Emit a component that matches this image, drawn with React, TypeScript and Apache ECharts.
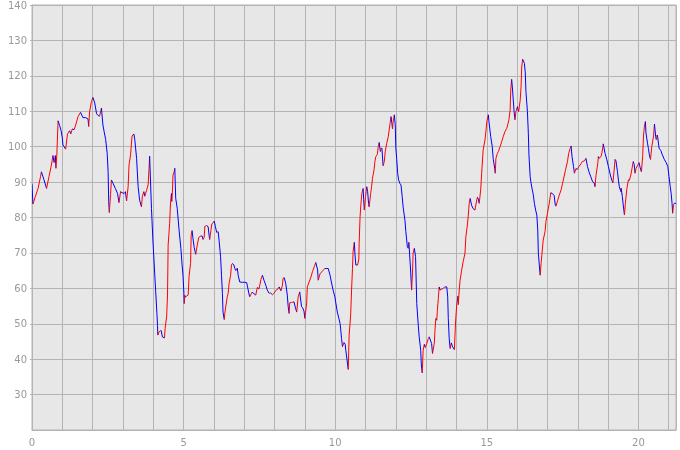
import React, { useEffect, useRef } from 'react';
import * as echarts from 'echarts';

const xs = [
  0.00, 0.03, 0.11, 0.20, 0.28, 0.31, 0.39, 0.48, 0.56, 0.64,
  0.69, 0.73, 0.77, 0.79, 0.82, 0.86, 0.91, 0.96, 1.00, 1.02,
  1.11, 1.17, 1.24, 1.28, 1.33, 1.39, 1.44, 1.52, 1.60, 1.68,
  1.77, 1.85, 1.87, 1.90, 1.96, 2.01, 2.07, 2.13, 2.18, 2.23,
  2.29, 2.34, 2.38, 2.43, 2.48, 2.51, 2.53, 2.55, 2.59, 2.62,
  2.67, 2.75, 2.82, 2.87, 2.92, 2.97, 3.04, 3.08, 3.12, 3.17,
  3.20, 3.25, 3.30, 3.36, 3.39, 3.45, 3.50, 3.55, 3.61, 3.64,
  3.69, 3.72, 3.78, 3.83, 3.86, 3.88, 3.94, 3.99, 4.05, 4.08,
  4.12, 4.14, 4.15, 4.19, 4.23, 4.26, 4.30, 4.37, 4.39, 4.44,
  4.47, 4.49, 4.54, 4.57, 4.60, 4.61, 4.63, 4.65, 4.69, 4.71,
  4.74, 4.79, 4.85, 4.91, 4.95, 4.98, 5.01, 5.02, 5.04, 5.06,
  5.10, 5.15, 5.18, 5.23, 5.25, 5.28, 5.31, 5.35, 5.40, 5.45,
  5.50, 5.57, 5.62, 5.64, 5.68, 5.70, 5.76, 5.81, 5.84, 5.86,
  5.90, 5.93, 5.97, 6.01, 6.05, 6.09, 6.14, 6.17, 6.22, 6.25,
  6.28, 6.30, 6.34, 6.36, 6.39, 6.44, 6.47, 6.50, 6.55, 6.58,
  6.61, 6.66, 6.69, 6.72, 6.77, 6.80, 6.85, 6.94, 7.02, 7.08,
  7.11, 7.15, 7.18, 7.22, 7.26, 7.32, 7.38, 7.43, 7.49, 7.55,
  7.60, 7.65, 7.71, 7.76, 7.82, 7.87, 7.93, 7.98, 8.04, 8.12,
  8.15, 8.21, 8.26, 8.28, 8.32, 8.37, 8.42, 8.45, 8.48, 8.50,
  8.56, 8.64, 8.69, 8.73, 8.78, 8.83, 8.89, 8.92, 8.97, 9.00,
  9.06, 9.08, 9.14, 9.20, 9.25, 9.31, 9.36, 9.42, 9.44, 9.50,
  9.55, 9.60, 9.66, 9.72, 9.77, 9.83, 9.88, 9.93, 9.99, 10.02,
  10.07, 10.11, 10.16, 10.18, 10.21, 10.24, 10.29, 10.33, 10.35, 10.43,
  10.46, 10.51, 10.54, 10.57, 10.59, 10.63, 10.65, 10.68, 10.74, 10.78,
  10.79, 10.82, 10.85, 10.88, 10.92, 10.94, 10.96, 11.00, 11.04, 11.07,
  11.10, 11.12, 11.17, 11.20, 11.23, 11.28, 11.31, 11.34, 11.39, 11.42,
  11.45, 11.49, 11.51, 11.54, 11.58, 11.62, 11.65, 11.70, 11.75, 11.81,
  11.84, 11.87, 11.89, 11.91, 11.95, 11.98, 12.00, 12.03, 12.06, 12.09,
  12.14, 12.17, 12.21, 12.24, 12.30, 12.33, 12.38, 12.41, 12.43, 12.47,
  12.49, 12.52, 12.55, 12.57, 12.61, 12.65, 12.69, 12.74, 12.77, 12.82,
  12.84, 12.87, 12.90, 12.94, 12.97, 13.02, 13.07, 13.10, 13.18, 13.21,
  13.27, 13.29, 13.32, 13.35, 13.37, 13.40, 13.43, 13.46, 13.49, 13.56,
  13.62, 13.68, 13.71, 13.73, 13.76, 13.79, 13.83, 13.87, 13.93, 13.97,
  14.01, 14.05, 14.06, 14.09, 14.12, 14.17, 14.22, 14.28, 14.31, 14.36,
  14.39, 14.42, 14.45, 14.50, 14.55, 14.61, 14.67, 14.69, 14.72, 14.75,
  14.80, 14.83, 14.88, 14.94, 14.97, 15.00, 15.05, 15.07, 15.13, 15.18,
  15.21, 15.26, 15.28, 15.30, 15.35, 15.38, 15.44, 15.49, 15.54, 15.60,
  15.66, 15.69, 15.73, 15.77, 15.79, 15.82, 15.85, 15.90, 15.93, 15.96,
  16.01, 16.05, 16.10, 16.13, 16.15, 16.18, 16.20, 16.24, 16.27, 16.29,
  16.34, 16.37, 16.39, 16.43, 16.46, 16.50, 16.53, 16.57, 16.61, 16.65,
  16.68, 16.70, 16.76, 16.79, 16.82, 16.86, 16.92, 16.95, 17.00, 17.06,
  17.11, 17.17, 17.22, 17.26, 17.28, 17.34, 17.39, 17.45, 17.50, 17.56,
  17.60, 17.66, 17.70, 17.75, 17.78, 17.81, 17.86, 17.89, 17.94, 17.99,
  18.04, 18.11, 18.15, 18.22, 18.27, 18.32, 18.37, 18.43, 18.49, 18.54,
  18.57, 18.60, 18.66, 18.68, 18.71, 18.77, 18.79, 18.83, 18.84, 18.90,
  18.96, 19.01, 19.07, 19.12, 19.16, 19.20, 19.23, 19.26, 19.31, 19.34,
  19.37, 19.42, 19.43, 19.47, 19.50, 19.54, 19.57, 19.62, 19.67, 19.70,
  19.75, 19.79, 19.83, 19.86, 19.89, 19.92, 19.98, 20.02, 20.06, 20.10,
  20.14, 20.17, 20.20, 20.23, 20.25, 20.30, 20.33, 20.36, 20.40, 20.44,
  20.50, 20.53, 20.57, 20.59, 20.62, 20.64, 20.68, 20.74, 20.79, 20.86,
  20.91, 20.97, 21.01, 21.05, 21.08, 21.11, 21.13, 21.16, 21.18, 21.24,
];

const ys = [
  89.5, 83.8, 85.9, 88.2, 91.5, 92.9, 90.8, 88.2, 91.5, 94.8,
  97.5, 95.5, 97.5, 93.9, 98.0, 107.3, 106.0, 104.5, 102.5, 100.5,
  99.3, 103.6, 104.5, 103.6, 105.0, 104.8, 106.1, 108.5, 109.7, 108.2,
  108.2, 107.8, 105.7, 109.9, 112.7, 113.9, 112.3, 109.3, 108.8, 108.6,
  110.9, 106.1, 104.2, 102.0, 98.1, 93.0, 84.5, 81.4, 86.5, 90.6,
  89.7, 88.2, 86.8, 84.2, 87.3, 87.0, 86.8, 87.3, 84.7, 88.7,
  94.8, 97.7, 103.0, 103.6, 102.0, 96.7, 88.7, 84.9, 83.0, 86.0,
  87.3, 86.0, 87.7, 89.2, 93.9, 97.3, 82.6, 73.1, 63.7, 59.0,
  52.9, 49.5, 46.8, 47.7, 48.0, 48.1, 46.3, 46.0, 48.7, 51.9,
  58.1, 72.2, 78.3, 84.5, 86.8, 84.5, 87.2, 92.0, 92.9, 93.9,
  85.4, 82.6, 76.5, 71.3, 66.6, 63.7, 58.6, 55.7, 58.0, 57.5,
  57.8, 58.1, 63.3, 67.1, 75.0, 76.3, 74.0, 71.5, 69.6, 72.2,
  74.4, 74.8, 74.7, 73.8, 74.4, 77.5, 77.7, 77.4, 75.0, 73.8,
  76.3, 78.2, 78.5, 79.0, 77.4, 75.8, 76.0, 73.6, 68.9, 63.7,
  58.6, 53.3, 51.2, 53.0, 54.8, 57.6, 58.6, 61.4, 63.7, 66.6,
  67.0, 66.6, 65.6, 65.0, 65.7, 63.7, 61.8, 61.7, 61.7, 61.6,
  60.4, 58.7, 57.6, 58.3, 58.9, 58.5, 58.1, 60.2, 59.9, 62.5,
  63.7, 62.3, 60.9, 59.5, 58.6, 58.7, 58.2, 58.6, 59.4, 59.9,
  60.4, 59.3, 60.9, 62.8, 63.0, 61.3, 58.1, 54.8, 52.9, 55.9,
  56.0, 56.2, 54.5, 53.3, 57.6, 59.0, 54.8, 54.6, 53.6, 51.5,
  55.9, 60.4, 61.8, 63.2, 64.7, 66.1, 67.3, 65.2, 62.3, 64.1,
  64.6, 65.1, 65.6, 65.6, 65.6, 63.7, 61.5, 59.5, 57.6, 55.9,
  53.3, 51.9, 50.1, 48.5, 45.8, 43.5, 44.7, 44.2, 42.5, 37.1,
  46.8, 52.5, 59.5, 65.6, 70.3, 73.0, 69.9, 66.6, 66.6, 68.3,
  72.7, 80.2, 84.0, 86.8, 88.2, 85.0, 82.1, 85.9, 88.7, 87.3,
  84.0, 83.0, 86.8, 88.7, 91.1, 93.4, 95.8, 97.2, 97.8, 100.0,
  101.2, 98.6, 99.5, 99.6, 94.6, 95.8, 98.6, 101.0, 102.8, 106.6,
  108.5, 106.6, 105.0, 106.9, 109.0, 106.2, 99.6, 96.3, 92.5, 90.6,
  89.5, 89.2, 85.9, 83.0, 79.2, 76.0, 71.7, 71.3, 73.0, 67.5,
  64.6, 59.5, 64.6, 69.9, 71.3, 69.0, 55.7, 49.6, 46.3, 42.5,
  38.6, 36.1, 42.5, 44.2, 43.3, 44.4, 45.8, 46.3, 44.4, 41.6,
  44.6, 48.2, 51.5, 51.0, 53.8, 57.1, 60.4, 59.5, 59.7, 60.0,
  60.4, 60.4, 57.6, 51.5, 45.8, 43.0, 44.6, 43.5, 42.7, 50.5,
  55.7, 57.8, 55.4, 59.5, 62.3, 65.1, 67.5, 69.9, 74.6, 77.9,
  80.7, 84.0, 85.4, 83.4, 82.5, 82.1, 85.0, 85.7, 85.2, 84.0,
  88.0, 92.5, 99.1, 101.9, 104.2, 107.1, 109.0, 107.1, 102.8, 100.0,
  96.7, 93.9, 92.5, 96.7, 98.1, 98.6, 100.0, 101.4, 102.8, 104.3,
  105.2, 106.2, 107.6, 110.4, 116.0, 119.0, 116.0, 109.9, 107.6, 109.9,
  111.3, 109.9, 113.0, 117.0, 122.2, 124.7, 124.4, 123.5, 120.8, 115.6,
  109.9, 103.8, 97.7, 91.5, 89.7, 87.8, 86.6, 84.0, 82.1, 80.7,
  76.5, 69.9, 63.7, 67.0, 69.9, 73.6, 76.0, 78.8, 81.2, 84.0,
  87.0, 86.7, 86.2, 83.5, 83.2, 84.9, 86.3, 87.8, 89.7, 92.0,
  93.6, 95.8, 98.1, 99.5, 100.2, 97.2, 94.4, 92.5, 93.8, 93.6,
  94.4, 95.2, 95.8, 96.0, 96.7, 94.4, 92.9, 91.5, 90.1, 89.8,
  88.7, 91.8, 95.3, 97.2, 96.7, 97.3, 98.0, 100.0, 100.8, 98.1,
  96.3, 94.4, 92.2, 90.6, 89.8, 93.4, 96.4, 96.0, 92.9, 90.6,
  88.7, 87.3, 88.3, 85.9, 83.5, 80.7, 84.0, 88.2, 90.6, 90.5,
  92.0, 93.9, 95.8, 95.0, 92.5, 93.8, 94.8, 95.5, 94.0, 92.9,
  97.2, 103.3, 105.8, 107.1, 103.9, 101.0, 99.5, 97.7, 96.4, 100.0,
  103.0, 106.4, 102.8, 102.0, 103.3, 102.5, 99.6, 98.9, 97.7, 96.3,
  95.6, 94.4, 91.5, 88.7, 86.8, 84.0, 81.2, 83.6, 84.0, 84.0,
];

const Y_MIN = 20;
const Y_MAX = 140;
const Y_STEP = 10;
const X_LABEL_STEP = 5;
const X_GRID_STEP = 1;

const UP_COLOR = '#ff0000';
const DOWN_COLOR = '#0000ff';
const GRID_COLOR = '#b4b4b4';
const LABEL_COLOR = '#999999';

export default function App() {
  const ref = useRef<HTMLDivElement>(null);
  useEffect(() => {
    if (!ref.current) return;
    const chart = echarts.init(ref.current, null, { renderer: 'svg' });
    const xMax = xs[xs.length - 1];
    const segs: number[][] = [];
    for (let i = 1; i < xs.length; i++) {
      segs.push([xs[i - 1], ys[i - 1], xs[i], ys[i]]);
    }
    const labelStyle = {
      color: LABEL_COLOR,
      fontFamily: 'DejaVu Sans',
      fontSize: 10,
    };
    chart.setOption({
      animation: false,
      grid: {
        left: 32,
        right: 4,
        top: 5,
        bottom: 20,
        show: true,
        backgroundColor: '#e7e7e7',
        borderColor: GRID_COLOR,
        borderWidth: 1,
      },
      xAxis: [
        {
          type: 'value',
          min: 0,
          max: xMax,
          interval: X_LABEL_STEP,
          position: 'bottom',
          axisLine: { show: true, onZero: false, lineStyle: { color: GRID_COLOR } },
          axisTick: { show: false },
          splitLine: { show: false },
          axisLabel: { ...labelStyle, margin: 7, showMaxLabel: false },
        },
        {
          type: 'value',
          min: 0,
          max: xMax,
          interval: X_GRID_STEP,
          position: 'top',
          axisLine: { show: false },
          axisTick: { show: false },
          axisLabel: { show: false },
          splitLine: { show: true, lineStyle: { color: GRID_COLOR, width: 1 } },
        },
      ],
      yAxis: {
        type: 'value',
        min: Y_MIN,
        max: Y_MAX,
        interval: Y_STEP,
        axisLine: { show: true, lineStyle: { color: GRID_COLOR } },
        axisTick: { show: true, length: 2, lineStyle: { color: GRID_COLOR } },
        splitLine: { show: true, lineStyle: { color: GRID_COLOR, width: 1 } },
        axisLabel: { ...labelStyle, margin: 5, showMinLabel: false },
      },
      series: [
        {
          type: 'custom',
          xAxisIndex: 0,
          clip: true,
          encode: { x: [0, 2], y: [1, 3] },
          data: segs,
          renderItem: (params: any, api: any) => {
            const a = api.coord([api.value(0), api.value(1)]);
            const b = api.coord([api.value(2), api.value(3)]);
            const up = api.value(3) > api.value(1);
            return {
              type: 'line',
              shape: { x1: a[0], y1: a[1], x2: b[0], y2: b[1] },
              style: { stroke: up ? UP_COLOR : DOWN_COLOR, lineWidth: 1 },
            };
          },
        },
      ],
    });
    return () => chart.dispose();
  }, []);
  return (
    <div
      ref={ref}
      style={{ position: 'fixed', left: 0, top: 0, width: 680, height: 450 }}
    />
  );
}
